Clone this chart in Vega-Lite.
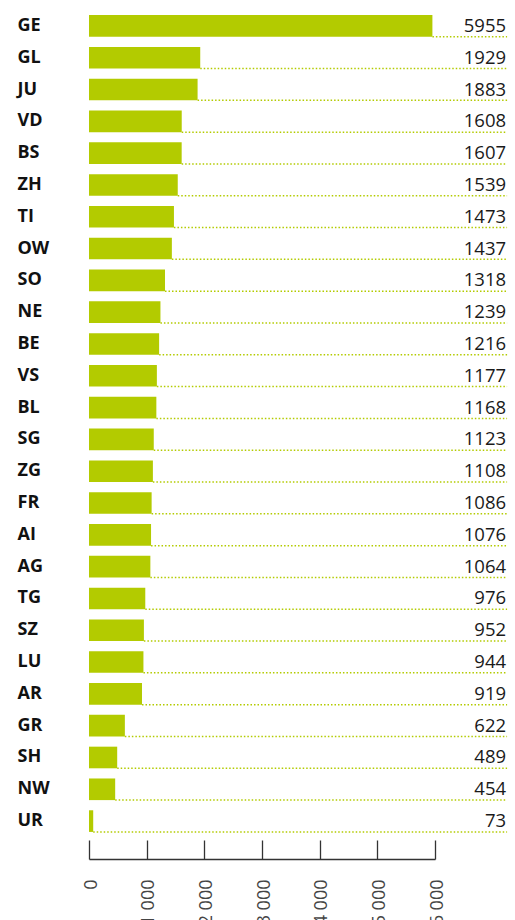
{
  "$schema": "https://vega.github.io/schema/vega-lite/v6.json",
  "width": 346,
  "height": 827,
  "padding": {"left": 17, "top": 10, "right": 0, "bottom": 0},
  "config": {"view": {"stroke": null}, "font": "Open Sans"},
  "data": {"values": [
    {"canton": "GE", "value": 5955},
    {"canton": "GL", "value": 1929},
    {"canton": "JU", "value": 1883},
    {"canton": "VD", "value": 1608},
    {"canton": "BS", "value": 1607},
    {"canton": "ZH", "value": 1539},
    {"canton": "TI", "value": 1473},
    {"canton": "OW", "value": 1437},
    {"canton": "SO", "value": 1318},
    {"canton": "NE", "value": 1239},
    {"canton": "BE", "value": 1216},
    {"canton": "VS", "value": 1177},
    {"canton": "BL", "value": 1168},
    {"canton": "SG", "value": 1123},
    {"canton": "ZG", "value": 1108},
    {"canton": "FR", "value": 1086},
    {"canton": "AI", "value": 1076},
    {"canton": "AG", "value": 1064},
    {"canton": "TG", "value": 976},
    {"canton": "SZ", "value": 952},
    {"canton": "LU", "value": 944},
    {"canton": "AR", "value": 919},
    {"canton": "GR", "value": 622},
    {"canton": "SH", "value": 489},
    {"canton": "NW", "value": 454},
    {"canton": "UR", "value": 73}
  ]},
  "encoding": {
    "y": {
      "field": "canton", "type": "nominal",
      "sort": {"field": "value", "order": "descending"},
      "scale": {"paddingInner": 0.32, "paddingOuter": 0.16},
      "axis": {
        "title": null, "ticks": false, "domain": false,
        "labelAlign": "left", "labelPadding": 72,
        "labelFont": "Open Sans", "labelFontWeight": "bold",
        "labelFontSize": 18, "labelColor": "#111111"
      }
    }
  },
  "layer": [
    {
      "mark": {"type": "bar", "color": "#b3cb00"},
      "encoding": {
        "x": {
          "field": "value", "type": "quantitative",
          "scale": {"domain": [0, 6000], "nice": false, "zero": true},
          "axis": {
            "title": null, "grid": false,
            "values": [0, 1000, 2000, 3000, 4000, 5000, 6000],
            "labelExpr": "replace(format(datum.value, ','), ',', ' ')",
            "offset": 22, "tickSize": -19,
            "domainColor": "#333333", "tickColor": "#333333",
            "domainWidth": 1.3, "tickWidth": 1.3,
            "labelAngle": 270, "labelAlign": "right", "labelBaseline": "middle",
            "labelPadding": 39, "labelOffset": 2,
            "labelFont": "Open Sans", "labelFontSize": 18, "labelColor": "#444444"
          }
        }
      }
    },
    {
      "mark": {"type": "rule", "color": "#b3cb00", "strokeDash": [1.5, 2], "strokeWidth": 1.5},
      "encoding": {
        "x": {"field": "value", "type": "quantitative"},
        "x2": {"datum": 7250},
        "y": {"field": "canton", "type": "nominal", "sort": {"field": "value", "order": "descending"}, "bandPosition": 1}
      }
    },
    {
      "mark": {"type": "text", "align": "right", "baseline": "middle", "font": "Open Sans", "fontSize": 18.5, "color": "#1a1a1a", "dx": -1},
      "encoding": {
        "x": {"datum": 7250},
        "text": {"field": "value", "type": "quantitative", "format": "d"}
      }
    }
  ]
}
